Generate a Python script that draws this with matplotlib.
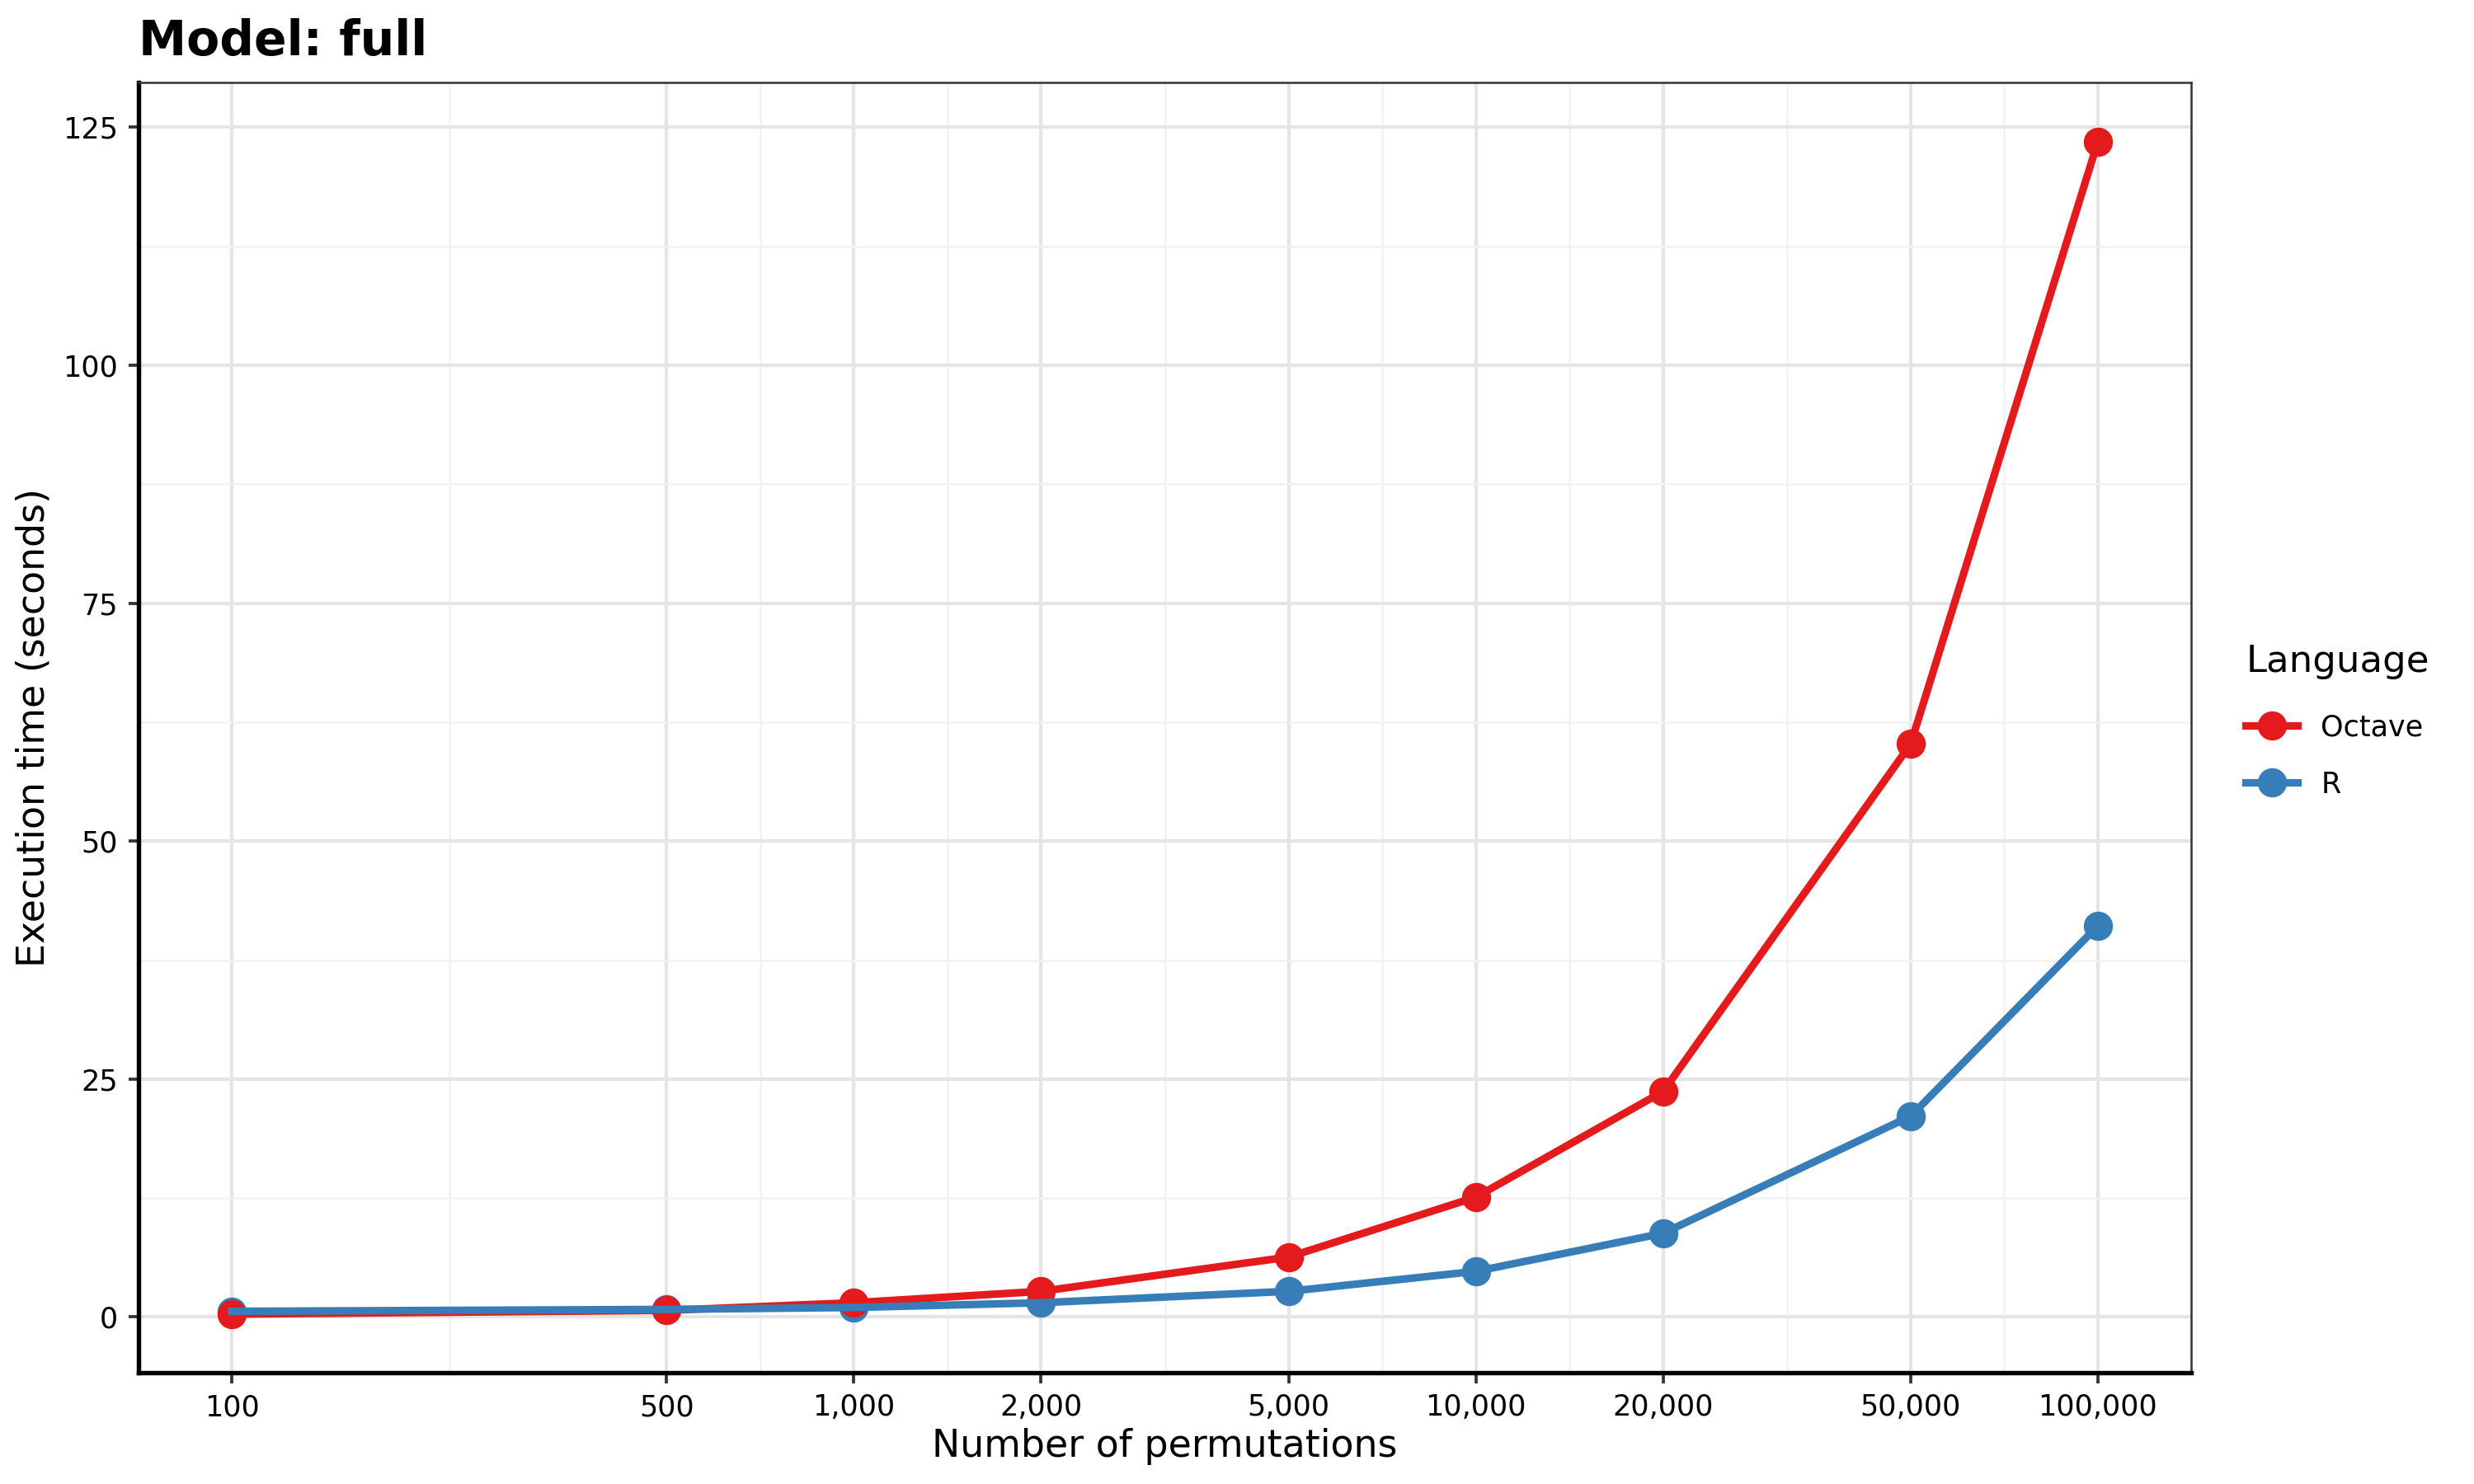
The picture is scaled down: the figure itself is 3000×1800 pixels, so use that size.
import matplotlib.pyplot as plt
import matplotlib.ticker as mticker
from matplotlib.lines import Line2D
import numpy as np

plt.switch_backend('Agg')

# данные
permutations = [100, 500, 1000, 2000, 5000, 10000, 20000, 50000, 100000]
octave_time = [0.3, 0.7, 1.5, 2.7, 6.3, 12.6, 23.7, 60.2, 123.5]
r_time = [0.6, 0.8, 1.0, 1.5, 2.7, 4.8, 8.8, 21.1, 41.1]
x_ticks = [100, 500, 1000, 2000, 5000, 10000, 20000, 50000, 100000]
y_ticks = [0, 25, 50, 75, 100, 125]

RED = '#E41A1C'
BLUE = '#377EB8'

fig = plt.figure(figsize=(10, 6), dpi=300)
ax = fig.add_axes([0.056, 0.075, 0.8297, 0.8694])

# точки под линиями, как в исходнике
ax.plot(permutations, r_time, 'o', color=BLUE, ms=7.5, zorder=3)
ax.plot(permutations, octave_time, 'o', color=RED, ms=7.5, zorder=3)
ax.plot(permutations, octave_time, '-', color=RED, lw=2.2, zorder=4)
ax.plot(permutations, r_time, '-', color=BLUE, lw=2.2, zorder=4)

ax.set_xscale('log')
lx = np.log10(x_ticks)
ax.set_xlim(10 ** (lx[0] - 0.15), 10 ** (lx[-1] + 0.15))
ax.set_ylim(-5.85, 129.7)

ax.xaxis.set_major_locator(mticker.FixedLocator(x_ticks))
ax.xaxis.set_major_formatter(mticker.FixedFormatter([f'{v:,}' for v in x_ticks]))
minor_x = 10 ** ((lx[:-1] + lx[1:]) / 2)
ax.xaxis.set_minor_locator(mticker.FixedLocator(minor_x))
ax.xaxis.set_minor_formatter(mticker.NullFormatter())
ax.set_yticks(y_ticks)
ax.set_yticks([12.5, 37.5, 62.5, 87.5, 112.5], minor=True)

ax.grid(True, which='major', color='#E5E5E5', lw=1.0, zorder=0)
ax.grid(True, which='minor', color='#F2F2F2', lw=0.6, zorder=0)
ax.set_axisbelow(True)

ax.tick_params(which='major', direction='out', length=3, width=0.9, color='#333333',
               labelsize=8.4, labelcolor='black', pad=3)
ax.tick_params(which='minor', length=0)

for s in ['left', 'bottom']:
    ax.spines[s].set_color('black')
    ax.spines[s].set_linewidth(1.3)
for s in ['top', 'right']:
    ax.spines[s].set_color('#333333')
    ax.spines[s].set_linewidth(0.6)

ax.set_xlabel('Number of permutations', fontsize=11, labelpad=2)
ax.set_ylabel('Execution time (seconds)', fontsize=11, labelpad=3)
fig.text(0.056, 0.972, 'Model: full', fontsize=14, fontweight='bold', ha='left', va='center')

handles = [
    Line2D([], [], color=RED, lw=2.2, marker='o', ms=7.5),
    Line2D([], [], color=BLUE, lw=2.2, marker='o', ms=7.5),
]
leg = ax.legend(handles, ['Octave', 'R'], title='Language', loc='center left',
                bbox_to_anchor=(1.014, 0.505), frameon=False, fontsize=8.4,
                title_fontsize=10.8, handlelength=1.8, labelspacing=1.0)
leg._legend_box.align = 'left'
leg._legend_box.sep = 10

fig.savefig('out.png', dpi=300)
plt.close(fig)
